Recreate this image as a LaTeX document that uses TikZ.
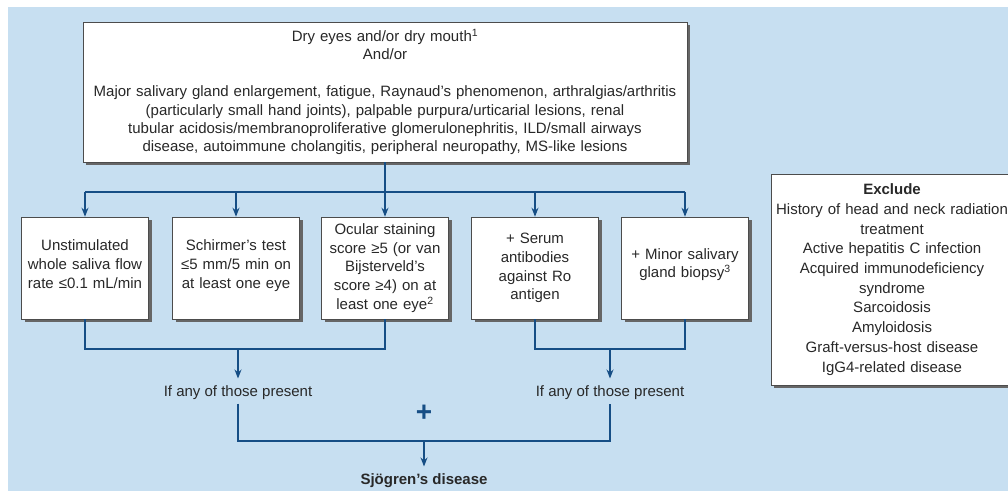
\documentclass[tikz,border=0pt]{standalone}
\usepackage{fontspec}
\setmainfont{Liberation Sans}
\usetikzlibrary{arrows.meta,shadows}
\definecolor{bgblue}{RGB}{199,223,241}
\definecolor{flowblue}{RGB}{22,78,133}
\definecolor{ink}{RGB}{40,40,40}
\tikzset{
  frame/.style={draw=black!70,fill=white,line width=0.6pt,
    drop shadow={shadow xshift=3pt,shadow yshift=-3pt,fill=black!60,opacity=1}},
  box/.style={frame,align=center,inner sep=0pt,text=ink,
    font=\fontsize{15}{18.8}\selectfont},
  testbox/.style={box,minimum width=127pt,minimum height=102pt,text width=122pt},
  flow/.style={draw=flowblue,line width=1.2pt},
  arr/.style={flow,-{Stealth[length=9pt,width=7pt]}},
  plain/.style={font=\fontsize{15}{18.8}\selectfont,align=center,text=ink}
}
\begin{document}
\begin{tikzpicture}[x=1pt,y=-1pt]
        \def\ysplit{192} \def\yjoin{349} \def\ylast{441}
        \useasboundingbox (0,0) rectangle (1008,491);
        \fill[bgblue] (8,7) rectangle (1008,491);

        \node (top) at (385,92) [box,minimum width=604pt,minimum height=140pt,text width=598pt,
          font=\fontsize{15}{18.4}\selectfont]
        {Dry eyes and/or dry mouth\textsuperscript{1}\\And/or\\[18.4pt]
        Major salivary gland enlargement, fatigue, Raynaud's phenomenon, arthralgias/arthritis\\
        (particularly small hand joints), palpable purpura/urticarial lesions, renal\\
        tubular acidosis/membranoproliferative glomerulonephritis, ILD/small airways\\
        disease, autoimmune cholangitis, peripheral neuropathy, MS-like lesions};

        \node (saliva) at (85,268) [testbox] {Unstimulated\\whole saliva flow\\rate ≤0.1 mL/min\\[-11pt]\mbox{}};
        \node (schirmer) at (236,268) [testbox] {Schirmer's test\\≤5 mm/5 min on\\at least one eye\\[-11pt]\mbox{}};
        \node (ocular) at (385,268) [testbox] {Ocular staining\\score ≥5 (or van\\Bijsterveld's\\score ≥4) on at\\least one eye\textsuperscript{2}};
        \node (serum) at (535,268) [testbox] {+ Serum\\antibodies\\against Ro\\antigen};
        \node (biopsy) at (685,268) [testbox] {+ Minor salivary\\gland biopsy\textsuperscript{3}\\[-9pt]\mbox{}};

        % exclusion list, its box runs off the right edge
        \begin{scope}
          \clip (0,0) rectangle (1008,491);
          \path[frame] (771,174) rectangle (1040,385);
        \end{scope}
        \node (exclude) at (892,279.5) [plain,text width=238pt,font=\fontsize{15}{19.7}\selectfont]
        {\textbf{Exclude}\\History of head and neck radiation\\treatment\\Active hepatitis C infection\\
        Acquired immunodeficiency\\syndrome\\Sarcoidosis\\Amyloidosis\\Graft-versus-host disease\\IgG4-related disease};

        \node (anyL) at (238,393) [plain] {If any of those present};
        \node (anyR) at (610,393) [plain] {If any of those present};
        \node (plus) at (424,413) [text=flowblue,font=\bfseries\fontsize{28}{28}\selectfont] {+};
        \node (sjogren) at (424,481) [plain,font=\bfseries\fontsize{15}{18.8}\selectfont] {Sjögren's disease};

        % from the top box down to the five tests
        \coordinate (split) at (385,\ysplit);
        \draw[flow] (top.south) -- (split);
        \draw[flow] (saliva.north |- split) -- (biopsy.north |- split);
        \foreach \n in {saliva,schirmer,ocular,serum,biopsy}
          \draw[arr] (\n.north |- split) -- (\n.north);

        % first group and second group
        \coordinate (joinL) at (238,\yjoin);
        \coordinate (joinR) at (610,\yjoin);
        \draw[flow] (saliva.south) |- (joinL) -| (ocular.south);
        \draw[flow] (serum.south) |- (joinR) -| (biopsy.south);
        \draw[arr,shorten >=4pt] (joinL) -- (anyL.north);
        \draw[arr,shorten >=4pt] (joinR) -- (anyR.north);

        % both groups give the disease
        \coordinate (meet) at (424,\ylast);
        \draw[flow] (anyL.south) |- (meet) -| (anyR.south);
        \draw[arr,shorten >=4pt] (meet) -- (sjogren.north);
\end{tikzpicture}
\end{document}
